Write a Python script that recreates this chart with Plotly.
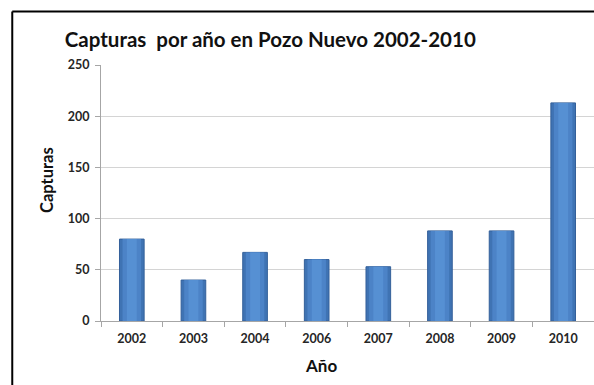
import plotly.graph_objects as go

# Captures per year
years = ["2002", "2003", "2004", "2006", "2007", "2008", "2009", "2010"]
captures = [80, 40, 67, 60, 53, 88, 88, 213]

title_text = "Capturas  por año en Pozo Nuevo 2002-2010"
x_title = "Año"
y_title = "Capturas"

FONT = "Lato, 'Open Sans', sans-serif"

fig = go.Figure()

# Base bar with darker edge, then narrower lighter bars on top to give a rounded look
fig.add_trace(go.Bar(
    x=years, y=captures, width=0.40,
    marker=dict(color="#3F73B3", line=dict(color="#34609A", width=1)),
    hoverinfo="x+y",
))
fig.add_trace(go.Bar(
    x=years, y=captures, width=0.30,
    marker=dict(color="#4C83C7", line=dict(width=0)),
    hoverinfo="skip",
))
fig.add_trace(go.Bar(
    x=years, y=captures, width=0.16,
    marker=dict(color="#5690D3", line=dict(width=0)),
    hoverinfo="skip",
))

fig.update_layout(
    width=594, height=385,
    margin=dict(l=101, r=0, t=65, b=64),
    paper_bgcolor="white", plot_bgcolor="white",
    barmode="overlay",
    showlegend=False,
    font=dict(family=FONT, color="#262626"),
    title=dict(
        text=f"<b>{title_text}</b>",
        x=0.455, xanchor="center", y=0.897, yanchor="middle",
        font=dict(family=FONT, size=20.5, color="#111111"),
    ),
)

fig.update_xaxes(
    type="category",
    showgrid=False,
    showline=True, linecolor="#A6A6A6", linewidth=1,
    ticks="outside", ticklen=5, tickcolor="#A6A6A6",
    tickson="boundaries",
    ticklabelstandoff=6,
    tickfont=dict(family=FONT, size=12.5, color="#262626", weight="bold"),
)
fig.update_yaxes(
    range=[0, 250], dtick=50,
    showgrid=True, gridcolor="#D4D4D4", gridwidth=1,
    showline=True, linecolor="#A6A6A6", linewidth=1,
    ticks="outside", ticklen=5, tickcolor="#A6A6A6",
    zeroline=False,
    ticklabelstandoff=3,
    tickfont=dict(family=FONT, size=12.5, color="#262626", weight="bold"),
)

# Axis titles
fig.add_annotation(
    text=f"<b>{x_title}</b>", xref="paper", yref="paper",
    x=0.446, y=-0.172, showarrow=False,
    xanchor="center", yanchor="middle",
    font=dict(family=FONT, size=17, color="#111111"),
)
fig.add_annotation(
    text=f"<b>{y_title}</b>", xref="paper", yref="paper",
    x=-0.11, y=0.55, textangle=-90, showarrow=False,
    xanchor="center", yanchor="middle",
    font=dict(family=FONT, size=16.5, color="#111111"),
)

# Frame lines along the top and left edge of the chart area
fig.add_shape(type="line", xref="paper", yref="paper",
              x0=-0.180, x1=1.05, y0=1.209, y1=1.209,
              line=dict(color="black", width=2))
fig.add_shape(type="line", xref="paper", yref="paper",
              x0=-0.180, x1=-0.180, y0=1.209, y1=-0.3,
              line=dict(color="black", width=2))

fig.write_html("out.html")
